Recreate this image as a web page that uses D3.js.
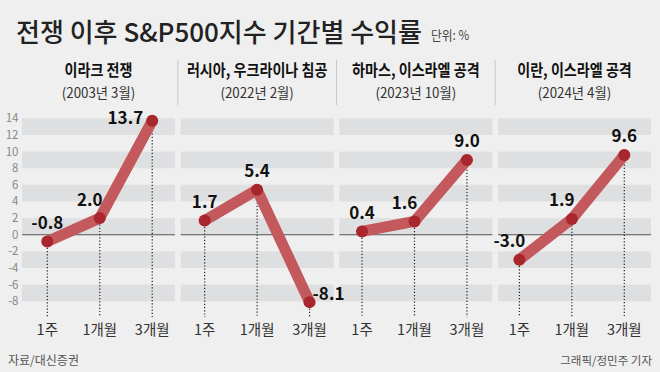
<!DOCTYPE html>
<html><head><meta charset="utf-8">
<script src="https://cdn.jsdelivr.net/npm/d3@7"></script>
<style>
html,body{margin:0;padding:0;background:#efefef;}
svg{display:block;}
text{font-family:"Noto Sans CJK KR","Noto Sans",sans-serif;}
</style></head>
<body>
<svg id="c" width="660" height="372"></svg>
<script>
// ---- data ----
const events = ["이라크 전쟁", "러시아, 우크라이나 침공", "하마스, 이스라엘 공격", "이란, 이스라엘 공격"];
const eventDates = ["(2003년 3월)", "(2022년 2월)", "(2023년 10월)", "(2024년 4월)"];
const periods = ["1주", "1개월", "3개월"];
const returns = [
  [-0.8, 2.0, 13.7],
  [1.7, 5.4, -8.1],
  [0.4, 1.6, 9.0],
  [-3.0, 1.9, 9.6]
];
const yTicks = [14, 12, 10, 8, 6, 4, 2, 0, -2, -4, -6, -8];
const titleText = "전쟁 이후 S&P500지수 기간별 수익률";
const unitText = "단위: %";
const sourceText = "자료/대신증권";
const creditText = "그래픽/정민주 기자";

// label placement per point (layout only)
const labelPlacement = [
  ["above", "aboveLeft", "left"],
  ["above", "above", "right"],
  ["above", "aboveLeft", "above"],
  ["aboveLeft", "aboveLeft", "above"]
];

// ---- layout ----
const svg = d3.select("#c");
const W = 660, H = 372;
svg.append("rect").attr("width", W).attr("height", H).attr("fill", "#efefef");

const y = d3.scaleLinear().domain([-8, 14]).range([301.3, 118.3]);
const panel = d3.scaleBand().domain(events).range([22, 651]).paddingInner(0.036);
const pointKeys = [];
events.forEach((e, i) => periods.forEach((p, j) => pointKeys.push(i + "-" + j)));
const xp = d3.scalePoint().domain(pointKeys).range([47.3, 624.3]);

function condense(sel, k) {
  sel.each(function () {
    const w = this.getComputedTextLength();
    d3.select(this).attr("textLength", w * k).attr("lengthAdjust", "spacingAndGlyphs");
  });
  return sel;
}

// title
svg.append("text").attr("x", 16).attr("y", 42)
  .attr("font-size", 26).attr("font-weight", 500).attr("fill", "#222")
  .text(titleText);
condense(svg.append("text").attr("x", 431).attr("y", 40)
  .attr("font-size", 13).attr("fill", "#444").text(unitText), 0.9);

// panel bands
const bandPairs = [[12, 14], [8, 10], [4, 6], [0, 2], [-4, -2], [-8, -6]];
const g = svg.append("g");
events.forEach((e, i) => {
  const x0 = panel(e), bw = panel.bandwidth();
  const pg = g.append("g");
  pg.selectAll("rect.band").data(bandPairs).join("rect")
    .attr("x", x0).attr("width", bw)
    .attr("y", d => y(d[1])).attr("height", d => y(d[0]) - y(d[1]))
    .attr("fill", "#dedfe0");
  pg.append("line").attr("x1", x0).attr("x2", x0 + bw)
    .attr("y1", y(0)).attr("y2", y(0)).attr("stroke", "#555").attr("stroke-width", 1);

  // header
  const cx = x0 + bw / 2;
  condense(svg.append("text").attr("x", cx).attr("y", 76).attr("text-anchor", "middle")
    .attr("font-size", 16).attr("font-weight", 700).attr("fill", "#111").text(e), 0.88);
  condense(svg.append("text").attr("x", cx).attr("y", 97.5).attr("text-anchor", "middle")
    .attr("font-size", 14).attr("fill", "#333").text(eventDates[i]), 0.95);

  if (i > 0) {
    const sx = x0 - (panel.step() - bw) / 2;
    svg.append("line").attr("x1", sx).attr("x2", sx).attr("y1", 60).attr("y2", 105)
      .attr("stroke", "#c8c8c8").attr("stroke-width", 1);
  }
});

// y axis labels
svg.selectAll("text.ytick").data(yTicks).join("text")
  .attr("class", "ytick").attr("x", 18.5).attr("y", d => y(d) + 4)
  .attr("text-anchor", "end").attr("font-size", 11.5).attr("fill", "#888")
  .text(d => d);

// series
const line = d3.line().x(d => xp(d.key)).y(d => y(d.v));
returns.forEach((vals, i) => {
  const pts = vals.map((v, j) => ({ key: i + "-" + j, v, j, place: labelPlacement[i][j] }));
  svg.selectAll(null).data(pts).join("line")
    .attr("x1", d => xp(d.key)).attr("x2", d => xp(d.key))
    .attr("y1", d => y(d.v)).attr("y2", 317)
    .attr("stroke", "#222").attr("stroke-width", 1.2).attr("stroke-dasharray", "1.2,2");
  svg.append("path").datum(pts).attr("d", line)
    .attr("fill", "none").attr("stroke", "#c3595c").attr("stroke-width", 11)
    .attr("stroke-linecap", "round").attr("stroke-linejoin", "round");
  svg.selectAll(null).data(pts).join("circle")
    .attr("cx", d => xp(d.key)).attr("cy", d => y(d.v)).attr("r", 6)
    .attr("fill", "#a8262d");
  svg.selectAll(null).data(pts).join("text")
    .attr("x", d => xp(d.key) + (d.place === "aboveLeft" ? -10 : d.place === "left" ? -9 : d.place === "right" ? 3 : 0))
    .attr("y", d => y(d.v) + (d.place === "left" ? 3 : d.place === "right" ? -2 : -12.5))
    .attr("text-anchor", d => d.place === "left" ? "end" : d.place === "right" ? "start" : "middle")
    .attr("font-size", 17).attr("font-weight", 700).attr("fill", "#111")
    .text(d => d.v.toFixed(1));
  svg.selectAll(null).data(pts).join("text")
    .attr("x", d => xp(d.key)).attr("y", 335).attr("text-anchor", "middle")
    .attr("font-size", 14.5).attr("fill", "#333")
    .text(d => periods[d.j]);
});

// footer
svg.append("text").attr("x", 8).attr("y", 365).attr("font-size", 12).attr("fill", "#555").text(sourceText);
svg.append("text").attr("x", 652).attr("y", 365).attr("text-anchor", "end")
  .attr("font-size", 11.5).attr("fill", "#555").text(creditText);
</script>
</body></html>
